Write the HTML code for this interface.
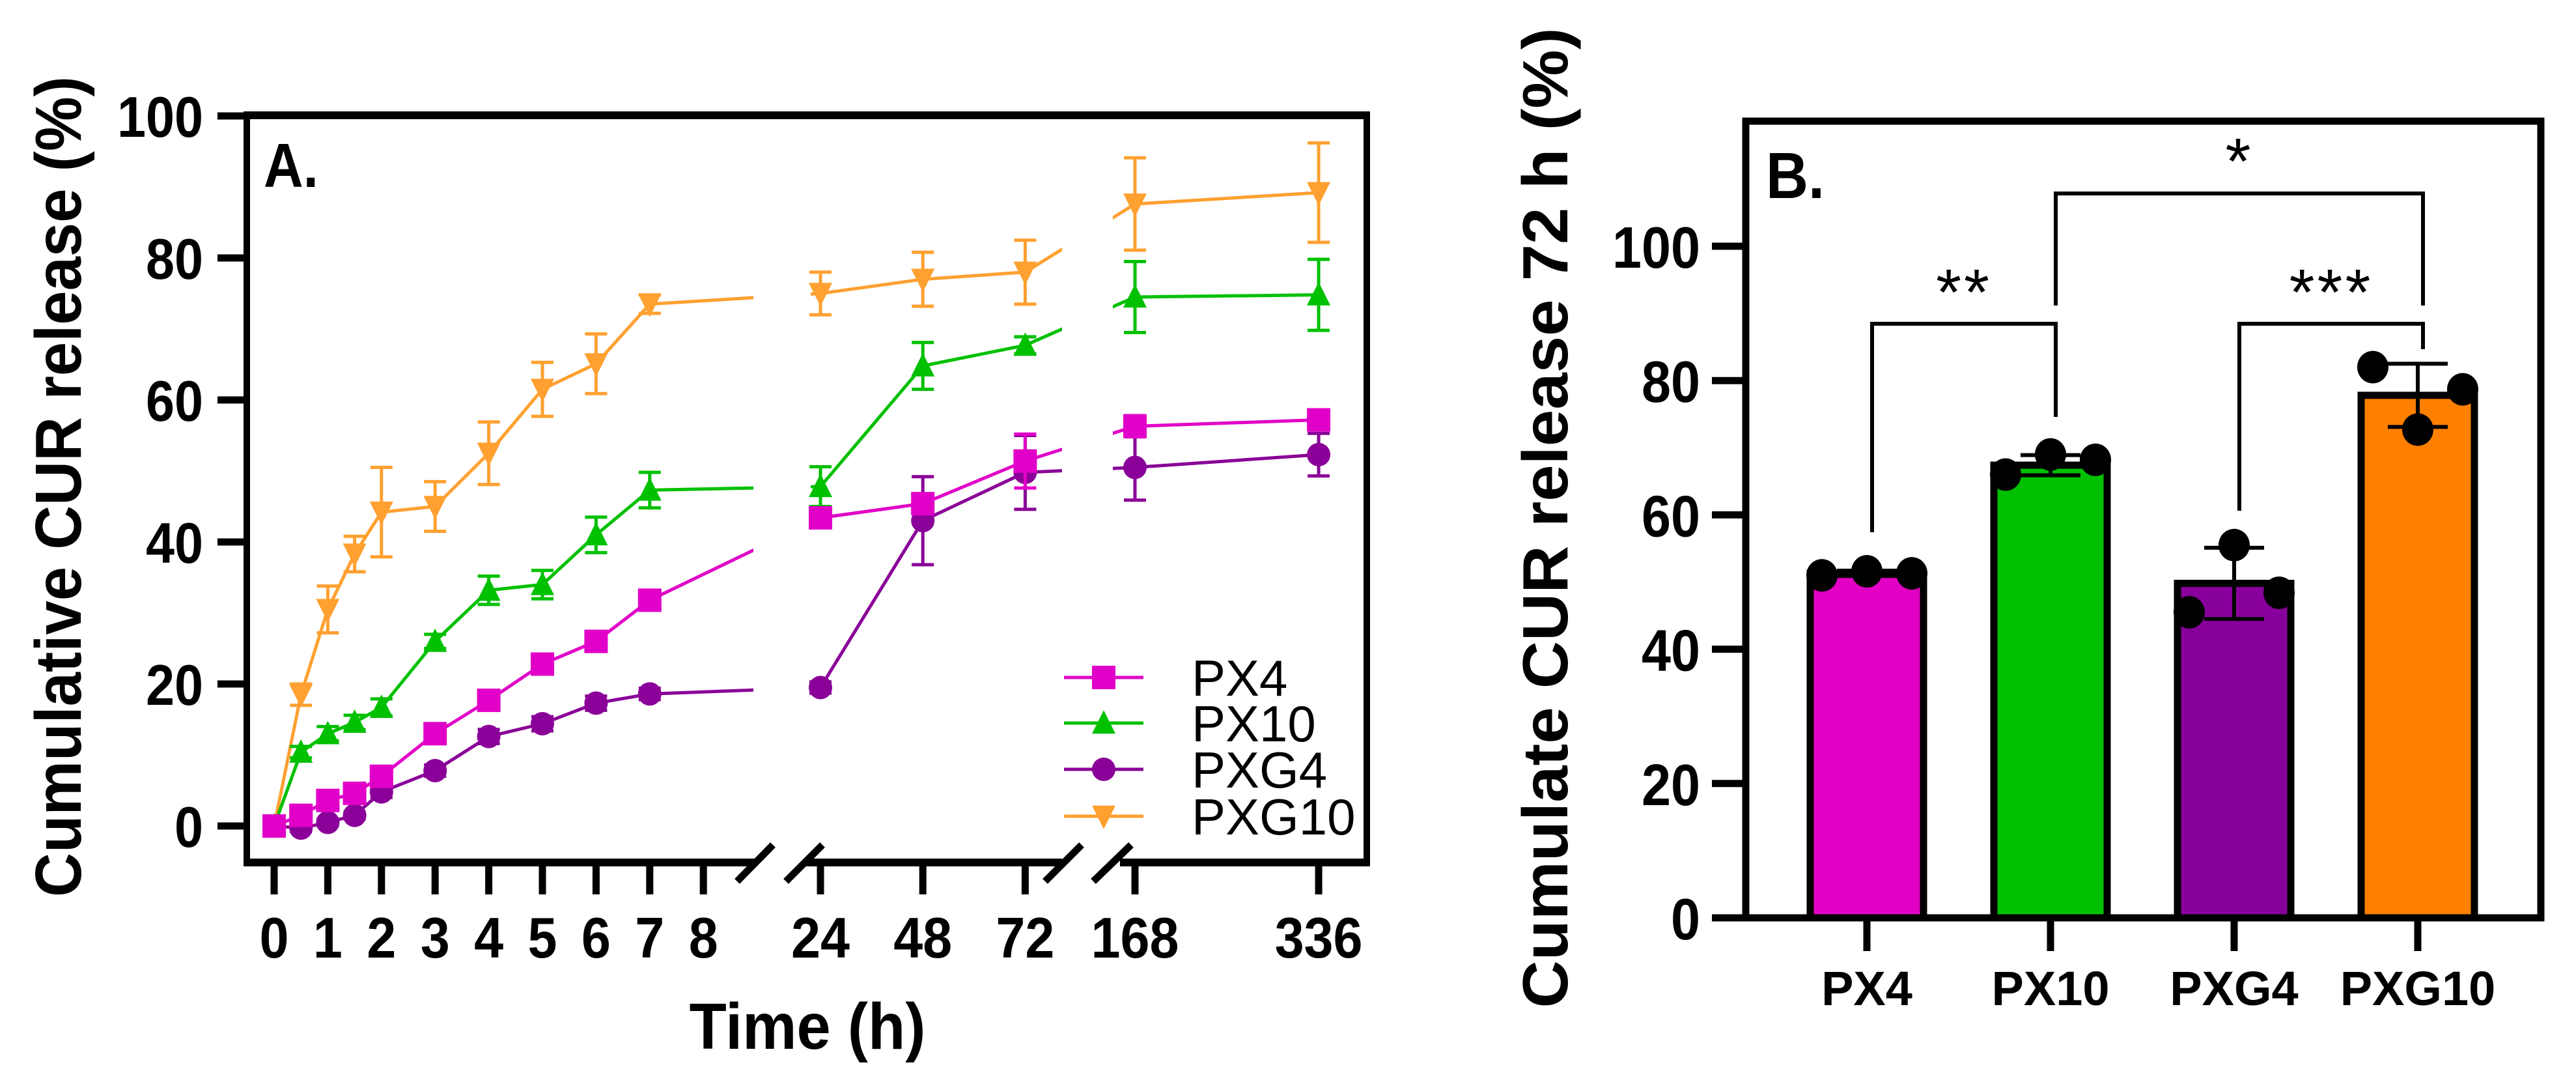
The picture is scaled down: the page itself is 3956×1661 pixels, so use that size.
<!DOCTYPE html>
<html><head><meta charset="utf-8"><style>
html,body{margin:0;padding:0;background:#fff;}
svg{display:block;}
text{font-family:"Liberation Sans",Arial,sans-serif;}
</style></head><body>
<svg id="fig" width="3956" height="1661" viewBox="0 0 3956 1661" xmlns="http://www.w3.org/2000/svg">
<defs>
<clipPath id="clipS1"><rect x="379" y="170" width="778" height="1160"/></clipPath>
<clipPath id="clipS2"><rect x="1245" y="170" width="386" height="1160"/></clipPath>
<clipPath id="clipS3"><rect x="1709" y="170" width="390" height="1160"/></clipPath>
</defs>
<g id="panelA"></g>
<g id="panelB"></g>
</svg>
<script>
// ---------- Panel A data ----------
var timesA = [0,0.5,1,1.5,2,3,4,5,6,7,24,48,72,168,336];
var tickHoursA = [0,1,2,3,4,5,6,7,8,24,48,72,168,336];
var yTicksA = [0,20,40,60,80,100];
var seriesNames = ["PX4","PX10","PXG4","PXG10"];
var px4Vals = [0,1.5,3.6,4.6,7,13,17.7,22.8,26,31.8,43.4,45.4,51.4,56.3,57.2];
var px4Err = [0,0.5,0.8,0.8,1,1,1,1,1,1,1,1.2,3.8,1.5,1];
var px10Vals = [0,10.4,13,14.6,16.7,26,33.2,34,41,47.3,47.8,64.8,67.7,74.5,74.8];
var px10Err = [0,0.8,1,1,1.2,1,2,2,2.5,2.5,2.8,3.3,1.2,5,5];
var pxg4Vals = [0,-0.3,0.5,1.5,4.8,7.8,12.6,14.4,17.3,18.6,19.5,43,49.8,50.5,52.3];
var pxg4Err = [0,0.5,0.5,0.5,0.8,0.8,1,1,1,0.8,0.8,6.2,5.2,4.6,3];
var pxg10Vals = [0,18.5,30.5,38.3,44.2,45,52.5,61.5,65.1,73.5,75,77,78,87.6,89.2];
var pxg10Err = [0,1.5,3.3,2.5,6.3,3.5,4.4,3.8,4.2,1.3,3,3.8,4.5,6.5,7];

// ---------- Panel B data ----------
var categoriesB = ["PX4","PX10","PXG4","PXG10"];
var meansB = [51.3,67.4,49.8,77.8];
var sdB = [0.4,1.5,5.3,4.7];
var pointsB = [[51,51.6,51.3],[66,69,68.2],[45.5,55.5,48.4],[82,72.7,78.7]];
var yTicksB = [0,20,40,60,80,100];
var sigLabels = ["**","***","*"];

var NS="http://www.w3.org/2000/svg";
function mk(parent, tag, attrs){var e=document.createElementNS(NS,tag);for(var k in attrs)e.setAttribute(k,attrs[k]);parent.appendChild(e);return e;}

// axis functions panel A
function xA(h){
  if(h<=10) return 421+h*82.4;
  if(h<=100) return 1260+(h-24)*6.55;
  return 1743+(h-168)*1.679;
}
function yA(v){return 1268-v*10.9;}

var A=document.getElementById('panelA');
// frame
var fr;
fr=mk(A,'line',{x1:379,y1:177,x2:2104,y2:177,stroke:'#000','stroke-width':12});


fr=mk(A,'line',{x1:379,y1:171,x2:379,y2:1330,stroke:'#000','stroke-width':10});


fr=mk(A,'line',{x1:2099,y1:171,x2:2099,y2:1330,stroke:'#000','stroke-width':10});


[[374,1160],[1237,1631],[1720,2104]].forEach(function(s){
  var l=mk(A,'line',{x1:s[0],y1:1324,x2:s[1],y2:1324,stroke:'#000','stroke-width':12});
  
  
});
[[1132,1353,1187,1297],[1207,1353,1263,1297],[1605,1353,1661,1297],[1679,1353,1737,1297]].forEach(function(s){
  var l=mk(A,'line',{x1:s[0],y1:s[1],x2:s[2],y2:s[3],stroke:'#000','stroke-width':11});
  
  
});
yTicksA.forEach(function(v){
  var t=mk(A,'line',{x1:334,y1:yA(v),x2:379,y2:yA(v),stroke:'#000','stroke-width':11});
  
  
  var s=String(v);
  var tx=mk(A,'text',{x:312,y:yA(v)+32,'text-anchor':'end','font-size':88,'font-weight':'bold',textLength:s.length*44,lengthAdjust:'spacingAndGlyphs'});
  tx.textContent=s;
  
  
});
tickHoursA.forEach(function(h){
  var x=xA(h);
  var t=mk(A,'line',{x1:x,y1:1330,x2:x,y2:1373,stroke:'#000','stroke-width':11});
  
  
  var s=String(h);
  var tx=mk(A,'text',{x:x,y:1470,'text-anchor':'middle','font-size':88,'font-weight':'bold',textLength:s.length*45,lengthAdjust:'spacingAndGlyphs'});
  tx.textContent=s;
  
  
});
var t;
t=mk(A,'text',{x:1240,y:1610,'text-anchor':'middle','font-size':100,'font-weight':'bold',textLength:363,lengthAdjust:'spacingAndGlyphs'});
t.textContent='Time (h)';


t=mk(A,'text',{x:0,y:0,'text-anchor':'middle','font-size':100,'font-weight':'bold',textLength:1260,lengthAdjust:'spacingAndGlyphs',transform:'translate(124,747) rotate(-90)'});
t.textContent='Cumulative CUR release (%)';


t=mk(A,'text',{x:405,y:287,'font-size':96,'font-weight':'bold',textLength:84,lengthAdjust:'spacingAndGlyphs'});
t.textContent='A.';



var colorsA=['#E100C8','#00C000','#8A0098','#FFA030'];
var valsA=[px4Vals,px10Vals,pxg4Vals,pxg10Vals];
var errsA=[px4Err,px10Err,pxg4Err,pxg10Err];
function marker(g,k,x,y,c,sz){
  var m;
  if(k===0) m=mk(g,'rect',{x:x-sz/2,y:y-sz/2,width:sz,height:sz,fill:c});
  else if(k===1) m=mk(g,'polygon',{points:(x)+','+(y-sz*0.55)+' '+(x+sz/2)+','+(y+sz*0.45)+' '+(x-sz/2)+','+(y+sz*0.45),fill:c});
  else if(k===2) m=mk(g,'ellipse',{cx:x,cy:y,rx:sz/2,ry:sz/2,fill:c});
  else m=mk(g,'polygon',{points:(x)+','+(y+sz*0.55)+' '+(x+sz/2)+','+(y-sz*0.45)+' '+(x-sz/2)+','+(y-sz*0.45),fill:c});
  return m;
}
for(var k=3;k>=0;k--){
  var g=mk(A,'g',{});
  
  
  var pts=timesA.map(function(h,i){return xA(h)+','+yA(valsA[k][i]);}).join(' ');
  ['clipS1','clipS2','clipS3'].forEach(function(c){
    var pl=mk(g,'polyline',{points:pts,fill:'none',stroke:colorsA[k],'stroke-width':5,'clip-path':'url(#'+c+')'});
    
    
  });
  timesA.forEach(function(h,i){
    var x=xA(h), v=valsA[k][i], e=errsA[k][i];
    if(e>0){
      var eb=mk(g,'path',{d:'M'+x+' '+yA(v-e)+'V'+yA(v+e)+'M'+(x-17)+' '+yA(v+e)+'H'+(x+17)+'M'+(x-17)+' '+yA(v-e)+'H'+(x+17),stroke:colorsA[k],'stroke-width':5,fill:'none'});
      
      
    }
    var m=marker(g,k,x,yA(v),colorsA[k],36);
    
    
  });
}
// legend
var legY=[1040,1110,1181,1253];
seriesNames.forEach(function(n,k){
  var lg=mk(A,'g',{});
  
  
  var l=mk(lg,'line',{x1:1634,y1:legY[k],x2:1756,y2:legY[k],stroke:colorsA[k],'stroke-width':5});
  
  
  var m=marker(lg,k,1695,legY[k],colorsA[k],36);
  
  
  var tx=mk(lg,'text',{x:1830,y:legY[k]+28,'font-size':78});
  tx.textContent=n;
  
  
});

// ---------- Panel B ----------
function xB(i){return 2867+i*282;}
function yB(v){return 1409-v*10.31;}
var B=document.getElementById('panelB');
var colorsB=['#E100C3','#00C000','#88009B','#FF8000'];
meansB.forEach(function(v,i){
  var r=mk(B,'rect',{x:xB(i)-87,y:yB(v),width:174,height:1409-yB(v),fill:colorsB[i],stroke:'#000','stroke-width':11});
  
  
});
meansB.forEach(function(v,i){
  var x=xB(i),e=sdB[i];
  var eb=mk(B,'path',{d:'M'+x+' '+yB(v-e)+'V'+yB(v+e)+'M'+(x-46)+' '+yB(v+e)+'H'+(x+46)+'M'+(x-46)+' '+yB(v-e)+'H'+(x+46),stroke:'#000','stroke-width':6,fill:'none'});
  
  
  pointsB[i].forEach(function(p,j){
    var c=mk(B,'ellipse',{cx:x+(j-1)*69,cy:yB(p),rx:24,ry:25,fill:'#000'});
    
    
  });
});
var fb=mk(B,'rect',{x:2681,y:186,width:1221,height:1223,fill:'none',stroke:'#000','stroke-width':11});


yTicksB.forEach(function(v){
  var tk=mk(B,'line',{x1:2629,y1:yB(v),x2:2681,y2:yB(v),stroke:'#000','stroke-width':11});
  
  
  var s=String(v);
  var tx=mk(B,'text',{x:2611,y:yB(v)+33,'text-anchor':'end','font-size':90,'font-weight':'bold',textLength:s.length*45,lengthAdjust:'spacingAndGlyphs'});
  tx.textContent=s;
  
  
});
categoriesB.forEach(function(c,i){
  var tk=mk(B,'line',{x1:xB(i),y1:1414,x2:xB(i),y2:1460,stroke:'#000','stroke-width':11});
  
  
  var tx=mk(B,'text',{x:xB(i),y:1543,'text-anchor':'middle','font-size':74,'font-weight':'bold'});
  tx.textContent=c;
  
  
});
// significance brackets [left idx, right idx, leftBottom, rightBottom, top, labelBaseline]
var brackets=[[0,1,817,640,497,483],[2,3,784,536,497,483],[1,3,469,469,297,282]];
brackets.forEach(function(b,n){
  var x1=xB(b[0])+8,x2=xB(b[1])+8;
  var p=mk(B,'path',{d:'M'+x1+' '+b[2]+'V'+b[4]+'H'+x2+'V'+b[3],stroke:'#000','stroke-width':6,fill:'none'});
  
  
  var tx=mk(B,'text',{x:(x1+x2)/2,y:b[5],'text-anchor':'middle','font-size':100,'letter-spacing':4});
  tx.textContent=sigLabels[n];
  
  
});
t=mk(B,'text',{x:2712,y:304,'font-size':100,'font-weight':'bold',textLength:90,lengthAdjust:'spacingAndGlyphs'});
t.textContent='B.';


t=mk(B,'text',{x:0,y:0,'text-anchor':'middle','font-size':98,'font-weight':'bold',textLength:1505,lengthAdjust:'spacingAndGlyphs',transform:'translate(2407,795) rotate(-90)'});
t.textContent='Cumulate CUR release 72 h (%)';


</script>
</body></html>
